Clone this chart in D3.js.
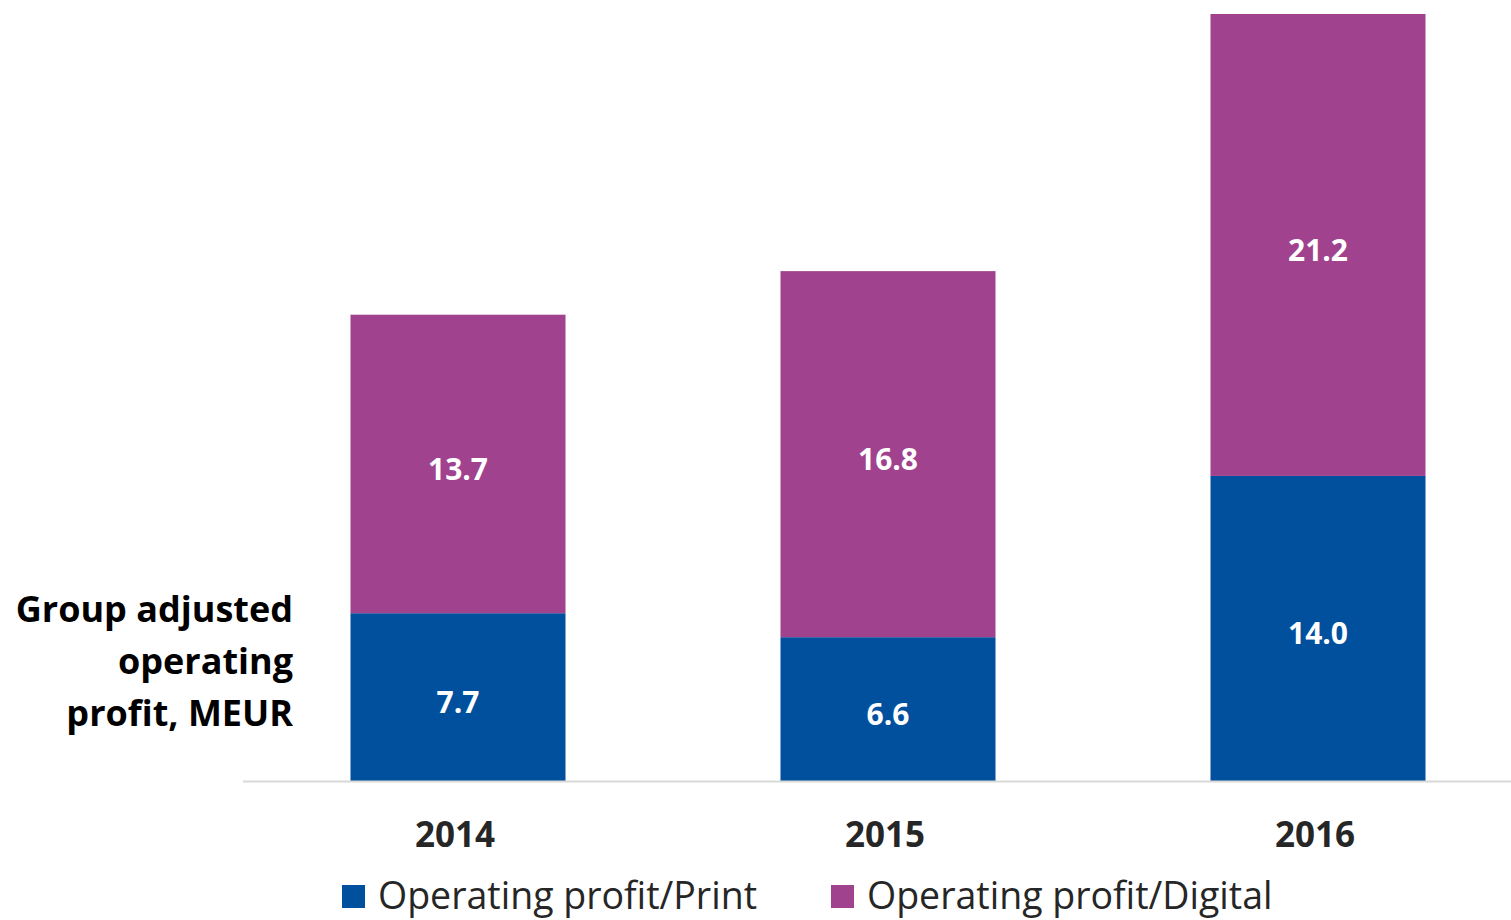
<!DOCTYPE html>
<html lang="en">
<head>
<meta charset="UTF-8">
<title>Group adjusted operating profit</title>
<style>
    html, body { margin: 0; background: #fff; }
    text { font-family: "Open Sans", "Noto Sans", sans-serif; }
</style>
</head>
<body>
<main></main>
<script src="https://d3js.org/d3.v7.min.js"></script>
<script>
    // - - - - - data - - - - -
    const years = ['2014', '2015', '2016'];
    const printValues = [7.7, 6.6, 14.0];
    const digitalValues = [13.7, 16.8, 21.2];
    const seriesNames = ['Operating profit/Print', 'Operating profit/Digital'];
    const titleLines = ['Group adjusted', 'operating', 'profit, MEUR'];

    // - - - - - setup - - - - -
    const width = 1511, height = 920;
    const colors = ['#00509E', '#A0428E'];

    const svg = d3.select('main').append('svg')
        .attr('width', width)
        .attr('height', height);

    const x = d3.scaleBand()
        .domain(years)
        .range([243, 1533])
        .paddingInner(0.5)
        .paddingOuter(0.25);

    const y = d3.scaleLinear()
        .domain([0, 35.2])
        .range([781, 14]);

    const rows = years.map((yr, i) => ({ year: yr, print: printValues[i], digital: digitalValues[i] }));
    const stack = d3.stack().keys(['print', 'digital'])(rows);

    // bars + value labels
    stack.forEach((layer, li) => {
        svg.append('g').selectAll('rect')
            .data(layer)
            .join('rect')
            .attr('x', d => x(d.data.year))
            .attr('y', d => y(d[1]))
            .attr('width', x.bandwidth())
            .attr('height', d => y(d[0]) - y(d[1]))
            .attr('fill', colors[li]);

        svg.append('g').selectAll('text')
            .data(layer)
            .join('text')
            .attr('x', d => x(d.data.year) + x.bandwidth() / 2)
            .attr('y', d => (y(d[0]) + y(d[1])) / 2 + 16)
            .attr('text-anchor', 'middle')
            .attr('fill', '#fff')
            .attr('font-size', 30)
            .attr('font-weight', 700)
            .text(d => d3.format('.1f')(d[1] - d[0]));
    });

    // baseline
    svg.append('line')
        .attr('x1', 243).attr('x2', width)
        .attr('y1', 781.5).attr('y2', 781.5)
        .attr('stroke', '#d9d9d9')
        .attr('stroke-width', 2);

    // x axis labels
    const xAxis = d3.axisBottom(x).tickSize(0).tickPadding(40);
    const gx = svg.append('g')
        .attr('transform', 'translate(-3,782)')
        .call(xAxis);
    gx.select('.domain').remove();
    gx.selectAll('text')
        .attr('font-family', '"Open Sans", sans-serif')
        .attr('font-size', 35)
        .attr('font-weight', 700)
        .attr('fill', '#262626');

    // y title
    svg.append('text')
        .attr('text-anchor', 'end')
        .attr('font-size', 36)
        .attr('font-weight', 700)
        .attr('fill', '#000')
        .selectAll('tspan')
        .data(titleLines)
        .join('tspan')
        .attr('x', 293)
        .attr('y', (d, i) => 622 + i * 52)
        .text(d => d);

    // legend
    const legendX = [342, 831];
    const legend = svg.append('g').selectAll('g')
        .data(seriesNames)
        .join('g')
        .attr('transform', (d, i) => `translate(${legendX[i]},885)`);
    legend.append('rect')
        .attr('width', 23).attr('height', 23)
        .attr('fill', (d, i) => colors[i]);
    legend.append('text')
        .attr('x', 36)
        .attr('y', 24)
        .attr('font-size', 37.5)
        .attr('fill', '#262626')
        .text(d => d);
</script>
</body>
</html>
